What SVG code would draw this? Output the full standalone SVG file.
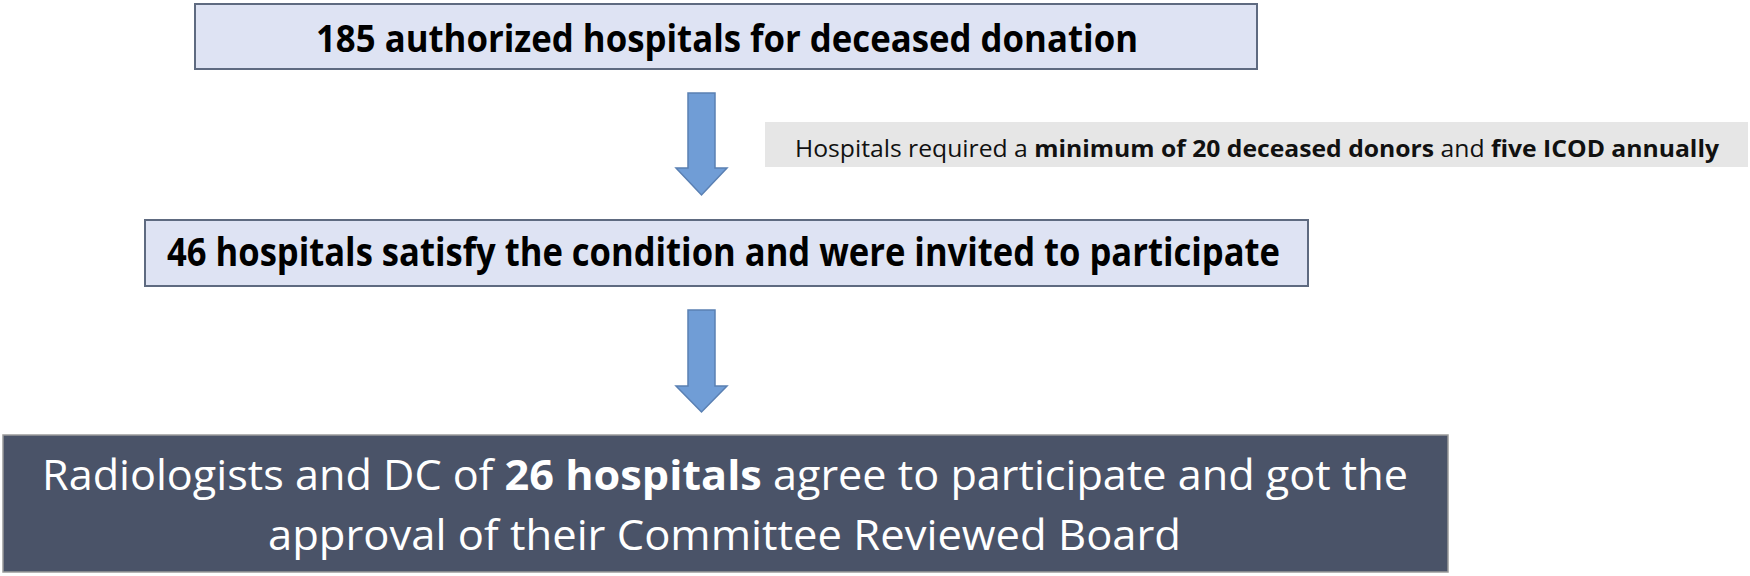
<svg xmlns="http://www.w3.org/2000/svg" width="1750" height="576" viewBox="0 0 1750 576">
<style>
.box{fill:#dee3f3;stroke:#5e6a80;stroke-width:2}
.note{fill:#e6e6e6}
.dark{fill:#4a5368;stroke:#9a9a9a;stroke-width:1.5}
.arrow{fill:#709dd6;stroke:#5a80b3;stroke-width:1.5;stroke-linejoin:miter}
.t{font-family:"Open Sans","Noto Sans","Liberation Sans",sans-serif}
.b{font-weight:bold}
</style>
<rect width="1750" height="576" fill="#ffffff"/>
<g id="node-top">
<rect class="box" x="195" y="4" width="1062" height="65"/>
<text class="t b" x="316" y="52" font-size="37" fill="#000" textLength="822" lengthAdjust="spacingAndGlyphs">185 authorized hospitals for deceased donation</text>
</g>
<g id="node-criteria">
<rect class="note" x="765" y="122" width="983" height="45"/>
<text class="t" x="795" y="157" font-size="23" fill="#111" textLength="924" lengthAdjust="spacingAndGlyphs">Hospitals required a <tspan class="b">minimum of 20 deceased donors</tspan> and <tspan class="b">five ICOD annually</tspan></text>
</g>
<g id="node-middle">
<rect class="box" x="145" y="220" width="1163" height="66"/>
<text class="t b" x="167" y="266" font-size="40" fill="#000" textLength="1113" lengthAdjust="spacingAndGlyphs">46 hospitals satisfy the condition and were invited to participate</text>
</g>
<g id="node-bottom">
<rect class="dark" x="3" y="435" width="1445" height="137"/>
<text class="t" x="42" y="490" font-size="42" fill="#ffffff" textLength="1366" lengthAdjust="spacingAndGlyphs">Radiologists and DC of <tspan class="b">26 hospitals</tspan> agree to participate and got the</text>
<text class="t" x="268" y="550" font-size="42" fill="#ffffff" textLength="913" lengthAdjust="spacingAndGlyphs">approval of their Committee Reviewed Board</text>
</g>
<g id="connectors">
<path class="arrow" d="M688,93 H715 V168 H727 L701.5,195 L676,168 H688 Z"/>
<path class="arrow" d="M688,310 H715 V386 H727 L701.5,412 L676,386 H688 Z"/>
</g>
</svg>
